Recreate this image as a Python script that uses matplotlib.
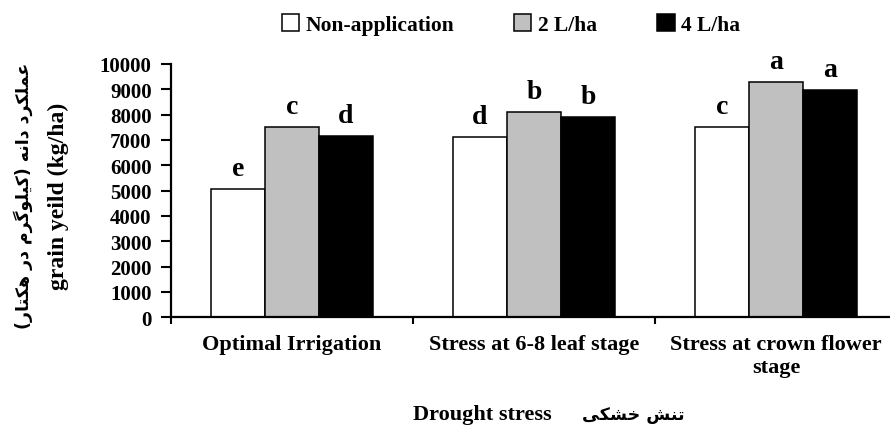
import numpy as np
import matplotlib
matplotlib.use('Agg')
import matplotlib.pyplot as plt
from matplotlib.patches import Patch

# Datos
categories = ['Optimal Irrigation', 'Stress at 6-8 leaf stage', 'Stress at crown flower\nstage']
series_names = ['Non-application', '2 L/ha', '4 L/ha']
non_application = [5070, 7120, 7510]
dose_2 = [7500, 8090, 9280]
dose_4 = [7160, 7900, 8970]
letters_non = ['e', 'd', 'c']
letters_2 = ['c', 'b', 'a']
letters_4 = ['d', 'b', 'a']
y_ticks = [0, 1000, 2000, 3000, 4000, 5000, 6000, 7000, 8000, 9000, 10000]

ylabel_en = 'grain yeild (kg/ha)'
ylabel_fa = 'عملکرد دانه (کیلوگرم در هکتار)'
xlabel_en = 'Drought stress'
xlabel_fa = 'تنش خشکی'

# formas de presentacion arabes (aislada, final, inicial, media)
AR_FORMS = {
    '\u0639': (0xFEC9, 0xFECA, 0xFECB, 0xFECC),
    '\u0645': (0xFEE1, 0xFEE2, 0xFEE3, 0xFEE4),
    '\u0644': (0xFEDD, 0xFEDE, 0xFEDF, 0xFEE0),
    '\u06A9': (0xFB8E, 0xFB8F, 0xFB90, 0xFB91),
    '\u0643': (0xFED9, 0xFEDA, 0xFEDB, 0xFEDC),
    '\u06AF': (0xFB92, 0xFB93, 0xFB94, 0xFB95),
    '\u0646': (0xFEE5, 0xFEE6, 0xFEE7, 0xFEE8),
    '\u0647': (0xFEE9, 0xFEEA, 0xFEEB, 0xFEEC),
    '\u06CC': (0xFBFC, 0xFBFD, 0xFBFE, 0xFBFF),
    '\u064A': (0xFEF1, 0xFEF2, 0xFEF3, 0xFEF4),
    '\u062A': (0xFE95, 0xFE96, 0xFE97, 0xFE98),
    '\u0634': (0xFEB5, 0xFEB6, 0xFEB7, 0xFEB8),
    '\u062E': (0xFEA5, 0xFEA6, 0xFEA7, 0xFEA8),
    '\u0631': (0xFEAD, 0xFEAE),
    '\u062F': (0xFEA9, 0xFEAA),
    '\u0627': (0xFE8D, 0xFE8E),
    '\u0648': (0xFEED, 0xFEEE),
}


def shape_fa(text):
    out = []
    for i, ch in enumerate(text):
        if ch not in AR_FORMS:
            out.append(ch)
            continue
        f = AR_FORMS[ch]
        prev = text[i - 1] if i > 0 else ''
        nxt = text[i + 1] if i + 1 < len(text) else ''
        join_prev = prev in AR_FORMS and len(AR_FORMS[prev]) == 4
        join_next = len(f) == 4 and nxt in AR_FORMS
        if join_prev and join_next:
            c = f[3]
        elif join_prev:
            c = f[1]
        elif join_next:
            c = f[2]
        else:
            c = f[0]
        out.append(chr(c))
    s = ''.join(reversed(out))
    return s.translate(str.maketrans('()', ')('))


plt.rcParams['font.family'] = ['Liberation Serif', 'DejaVu Sans']
plt.rcParams['font.weight'] = 'bold'

fig = plt.figure(figsize=(8.9, 4.27), dpi=100)
ax = fig.add_axes([171 / 890, 0.2546, 726 / 890, 0.5932])

x = np.arange(len(categories))
w = 0.223
colors = ['white', '#c0c0c0', 'black']
all_vals = [non_application, dose_2, dose_4]
all_letters = [letters_non, letters_2, letters_4]

for j, (vals, lets) in enumerate(zip(all_vals, all_letters)):
    xs = x + (j - 1) * w
    ax.bar(xs, vals, w, color=colors[j], edgecolor='black', linewidth=1.1)
    for xi, v, l in zip(xs, vals, lets):
        ax.annotate(l, (xi, v), xytext=(0, 10), textcoords='offset points',
                    ha='center', va='baseline', fontsize=20, fontweight='bold')

ax.set_xlim(-0.5, 2.5)
ax.set_ylim(0, 10000)
ax.set_yticks(y_ticks)
ax.set_yticklabels([str(t) for t in y_ticks], fontsize=15)
ax.set_xticks(x)
ax.set_xticklabels(categories, fontsize=16, multialignment='center')
ax.set_xticks([-0.5, 0.5, 1.5, 2.5], minor=True)
ax.tick_params(axis='x', which='major', length=0, pad=12)
ax.tick_params(axis='x', which='minor', length=5, width=1.5, direction='out')
ax.tick_params(axis='y', length=7, width=1.5, pad=7)

ax.spines['top'].set_visible(False)
ax.spines['right'].set_visible(False)
ax.spines['left'].set_linewidth(1.6)
ax.spines['bottom'].set_linewidth(1.6)

# etiquetas de ejes
fig.text(58 / 890, 1 - 196 / 427, ylabel_en, rotation=90, ha='center', va='center',
         fontsize=17, fontweight='bold')
fig.text(23 / 890, 1 - 196 / 427, shape_fa(ylabel_fa), rotation=90, ha='center', va='center',
         fontsize=12.5, fontweight='bold', family='DejaVu Sans')
fig.text(413 / 890, 1 - 420 / 427, xlabel_en, ha='left', va='baseline',
         fontsize=16, fontweight='bold')
fig.text(582 / 890, 1 - 420 / 427, shape_fa(xlabel_fa), ha='left', va='baseline',
         fontsize=12.5, fontweight='bold', family='DejaVu Sans')

handles = [Patch(facecolor=c, edgecolor='black', linewidth=1.1) for c in colors]
fig.legend(handles, series_names, loc='center', bbox_to_anchor=(0.574, 0.94), ncol=3,
           frameon=False, fontsize=15.5, handlelength=0.8, handleheight=0.8,
           handletextpad=0.3, columnspacing=2.8)

fig.savefig('out.png', dpi=100)
